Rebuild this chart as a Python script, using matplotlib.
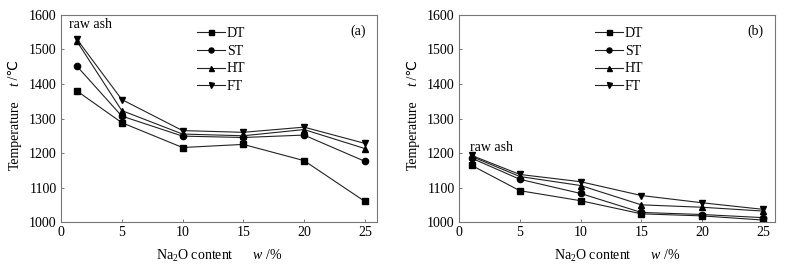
import matplotlib
matplotlib.use("Agg")
import matplotlib.pyplot as plt

plt.rcParams['font.family'] = ['Liberation Serif', 'DejaVu Sans']
plt.rcParams['mathtext.fontset'] = 'custom'
plt.rcParams['mathtext.rm'] = 'Liberation Serif'
plt.rcParams['mathtext.it'] = 'Liberation Serif:italic'
plt.rcParams['font.size'] = 10

x_a = [1.3, 5, 10, 15, 20, 25]
x_b = [1.05, 5, 10, 15, 20, 25]

a_DT = [1380, 1288, 1216, 1225, 1178, 1060]
a_ST = [1452, 1307, 1249, 1245, 1252, 1176]
a_HT = [1524, 1323, 1255, 1250, 1268, 1213]
a_FT = [1530, 1355, 1265, 1260, 1275, 1228]

b_DT = [1164, 1091, 1062, 1024, 1018, 1006]
b_ST = [1185, 1124, 1083, 1028, 1022, 1013]
b_HT = [1190, 1132, 1106, 1050, 1043, 1032]
b_FT = [1193, 1138, 1117, 1077, 1056, 1037]

labels = ['DT', 'ST', 'HT', 'FT']
markers = ['s', 'o', '^', 'v']
xticks = [0, 5, 10, 15, 20, 25]
yticks = [1000, 1100, 1200, 1300, 1400, 1500, 1600]

fig = plt.figure(figsize=(7.88, 2.66), dpi=100)
ax1 = fig.add_axes([0.0774, 0.165, 0.401, 0.779])
ax2 = fig.add_axes([0.5825, 0.165, 0.401, 0.779])

panels = [(ax1, x_a, [a_DT, a_ST, a_HT, a_FT], '(a)', (0.7, 1572)),
          (ax2, x_b, [b_DT, b_ST, b_HT, b_FT], '(b)', (0.9, 1217))]

for ax, xs, series, tag, rawpos in panels:
    for ys, lab, m in zip(series, labels, markers):
        ax.plot(xs, ys, color='#222222', lw=0.8, marker=m, ms=4.5,
                mfc='black', mec='black', label=lab)
    ax.set_xlim(0, 26)
    ax.set_ylim(1000, 1600)
    ax.set_xticks(xticks)
    ax.set_yticks(yticks)
    ax.tick_params(direction='in', length=2.5, width=0.6, color='#666666',
                   labelsize=10, pad=3)
    for s in ax.spines.values():
        s.set_color('#777777')
        s.set_linewidth(0.8)
    # y label: pieces so that the degree sign renders from a normal font
    ax.text(-0.146, 0.42, 'Temperature', transform=ax.transAxes, rotation=90,
            ha='center', va='center', fontsize=10)
    ax.text(-0.146, 0.665, 't', transform=ax.transAxes, rotation=90,
            ha='center', va='center', fontsize=10, style='italic')
    ax.text(-0.146, 0.725, ' /\u2103', transform=ax.transAxes, rotation=90,
            ha='center', va='center', fontsize=10)
    ax.set_xlabel('Na$_2$O content      $w$ /%', fontsize=10, labelpad=6)
    ax.text(0.965, 0.955, tag, transform=ax.transAxes, ha='right', va='top', fontsize=10)
    ax.text(rawpos[0], rawpos[1], 'raw ash', ha='left', va='center', fontsize=10)
    ax.legend(loc='upper left', bbox_to_anchor=(0.4, 0.99), frameon=False,
              fontsize=10, handlelength=2.0, handletextpad=0.15,
              labelspacing=0.35, borderpad=0.2, markerscale=0.8)

fig.savefig('out.png', dpi=100)
